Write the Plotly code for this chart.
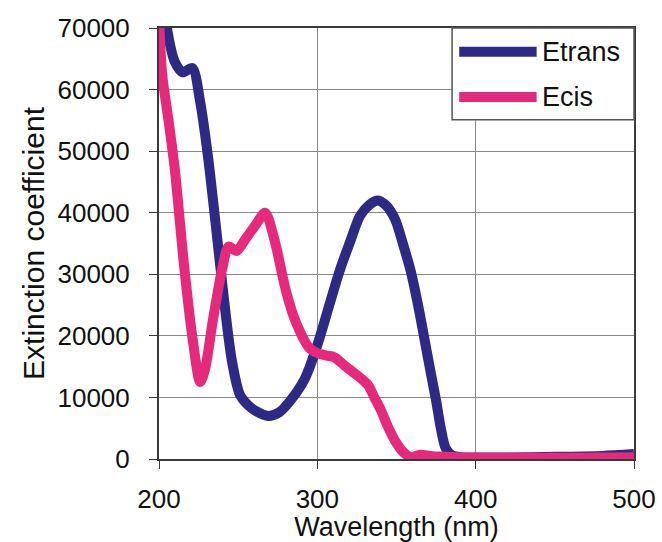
import plotly.graph_objects as go

# Absorption spectra (nm vs. molar extinction coefficient)
wl_trans = [200, 205, 210, 215, 221, 226, 231, 235, 241, 246, 251, 256, 261, 269,
            276, 283, 292, 300, 307, 314, 321, 327, 333, 338, 343, 349, 354, 359,
            364, 368, 372, 375, 378, 381, 385, 390, 400, 420, 450, 480, 500]
eps_trans = [82000, 70000, 64500, 62800, 63500, 58000, 49000, 40000, 26000, 16000,
             10500, 8800, 7800, 7000, 7600, 9500, 13000, 18500, 24500, 30500, 35500,
             39500, 41300, 42000, 41300, 39000, 35000, 30500, 24500, 19000, 13500,
             9500, 5000, 1800, 600, 300, 250, 250, 350, 500, 800]

wl_cis = [200, 202, 206, 210, 216, 221.5, 226, 229, 234, 240, 244, 249, 254, 261,
          267, 273, 280, 286, 295, 300, 306, 311, 317, 322, 327, 332, 336, 340, 345,
          349, 354, 359, 365, 371, 377, 390, 420, 450, 480, 500]
eps_cis = [72000, 62500, 55000, 47000, 31000, 19000, 12500, 14500, 22500, 31000,
           34500, 33800, 35500, 38000, 40000, 35500, 27500, 22500, 18000, 17200,
           16800, 16500, 15200, 14200, 13200, 12000, 10000, 8000, 5000, 3000, 1200,
           300, 700, 500, 400, 250, 200, 200, 250, 300]

series_names = ["Etrans", "Ecis"]
series_colors = ["#2D2A86", "#E52A7C"]

x_ticks = [200, 300, 400, 500]
y_ticks = [0, 10000, 20000, 30000, 40000, 50000, 60000, 70000]

FONT = "Liberation Sans, Arial, sans-serif"

fig = go.Figure()
for wl, eps, name, color in zip([wl_trans, wl_cis], [eps_trans, eps_cis],
                                series_names, series_colors):
    fig.add_trace(go.Scatter(
        x=wl, y=eps, mode="lines", name=name,
        line=dict(color=color, width=10, shape="spline", smoothing=0.8),
        showlegend=False,
    ))

# Boxed legend in the upper-right corner of the plot area
fig.add_shape(type="rect", xref="paper", yref="paper",
              x0=0.617, x1=1.0, y0=0.787, y1=1.0,
              line=dict(color="#555555", width=1.5), fillcolor="white", layer="above")
legend_rows = [0.945, 0.84]
for name, color, yy in zip(series_names, series_colors, legend_rows):
    fig.add_shape(type="line", xref="paper", yref="paper",
                  x0=0.632, x1=0.795, y0=yy, y1=yy,
                  line=dict(color=color, width=10), layer="above")
    fig.add_annotation(xref="paper", yref="paper", x=0.803, y=yy,
                       text=name, showarrow=False, xanchor="left", yanchor="middle",
                       font=dict(family=FONT, size=27, color="#111111"))

fig.update_layout(
    width=662, height=542,
    margin=dict(l=159, r=28, t=28, b=83),
    paper_bgcolor="white", plot_bgcolor="white",
    font=dict(family=FONT, color="#111111"),
)
fig.update_xaxes(
    range=[200, 500], tickvals=x_ticks, ticktext=[str(v) for v in x_ticks],
    showgrid=True, gridcolor="#8a8a8a", gridwidth=1,
    showline=True, linecolor="#3a3a3a", linewidth=2, mirror=True,
    ticks="outside", ticklen=8, tickcolor="#3a3a3a",
    tickfont=dict(size=26), ticklabelstandoff=8,
    title=dict(text="Wavelength (nm)", font=dict(size=27), standoff=6),
    zeroline=False, automargin=False,
)
fig.update_yaxes(
    range=[0, 70000], tickvals=y_ticks, ticktext=[str(v) for v in y_ticks],
    showgrid=True, gridcolor="#8a8a8a", gridwidth=1,
    showline=True, linecolor="#3a3a3a", linewidth=2, mirror=True,
    ticks="outside", ticklen=8, tickcolor="#3a3a3a",
    tickfont=dict(size=26), ticklabelstandoff=14,
    title=dict(text="Extinction coefficient", font=dict(size=30), standoff=4),
    zeroline=False, automargin=False,
)

fig.write_html("out.html")
